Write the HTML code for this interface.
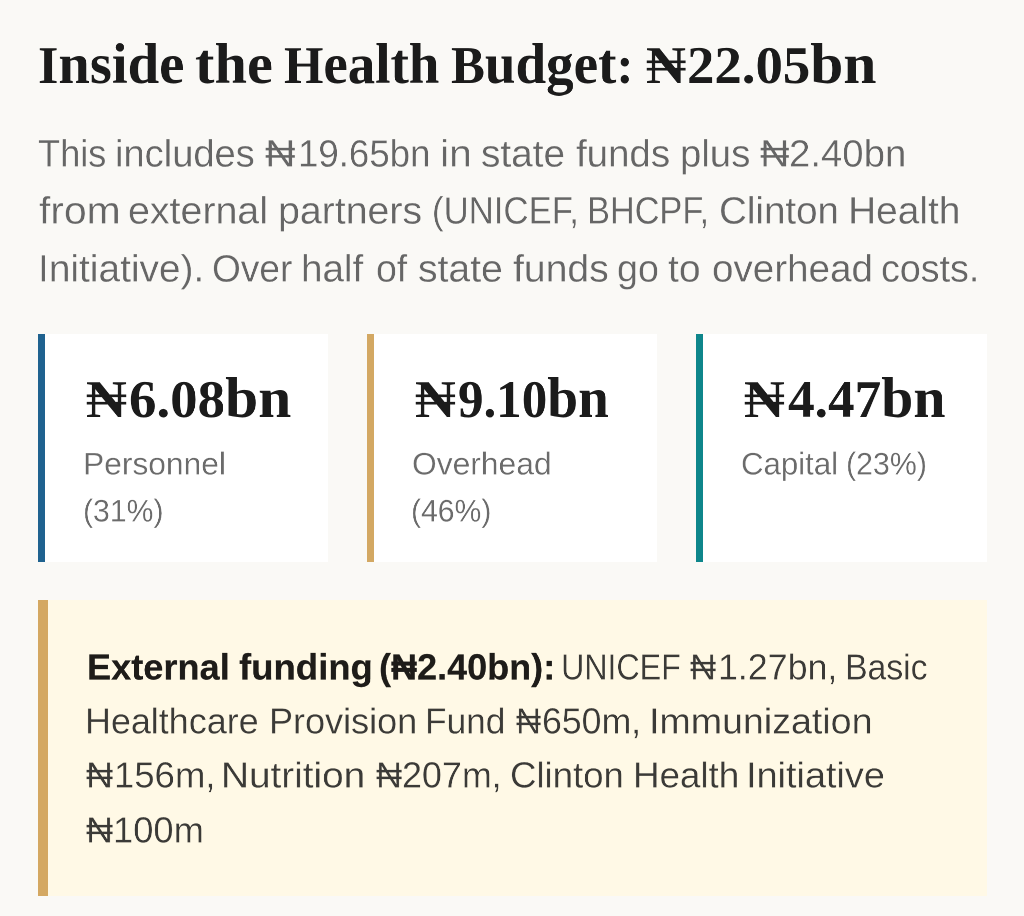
<!DOCTYPE html>
<html lang="en">
<head>
<meta charset="utf-8">
<title>Inside the Health Budget</title>
<style>
html,body{margin:0;padding:0;}
body{width:1024px;height:916px;background:#faf9f6;position:relative;overflow:hidden;font-family:"Liberation Sans",sans-serif;}
.box{position:absolute;box-sizing:border-box;}
.card{background:#ffffff;top:334px;height:228px;width:290px;border-left:7px solid #000;}
.c1{left:38px;border-left-color:#1f628f;}
.c2{left:367px;border-left-color:#d3a863;}
.c3{left:696px;width:291px;border-left-color:#0e868b;}
.note{left:38px;top:600px;width:949px;height:296px;background:#fff9e6;border-left:10px solid #d4a862;}
.w{margin:0;padding:0;font-size:0;line-height:0;font-weight:normal;}
.ln{position:absolute;white-space:nowrap;line-height:1;transform-origin:0 0;margin:0;padding:0;will-change:transform;}
.sf{font-family:"Liberation Serif",serif;font-weight:bold;}
.ss{font-family:"Liberation Sans",sans-serif;font-weight:normal;}
.sb{font-family:"Liberation Sans",sans-serif;font-weight:bold;-webkit-text-stroke:0.4px #1e1c19;}
.lc{font-size:1.085em;line-height:0;}
.tp{-webkit-text-stroke:0.5px #faf9f6;}
.tc{-webkit-text-stroke:0.45px #ffffff;}
.ty{-webkit-text-stroke:0.5px #fff9e6;}
</style>
</head>
<body>
<div class="box card c1"></div>
<div class="box card c2"></div>
<div class="box card c3"></div>
<div class="box note"></div>

<h1 class="w title">
<span id="T_0" class="ln sf" style="left:37.94px;top:39.01px;font-size:106.00px;color:#1b1b1b;transform:scale(0.4924,0.5000)">I<span class="lc">nside</span></span>
<span id="T_1" class="ln sf" style="left:195.38px;top:39.01px;font-size:106.00px;color:#1b1b1b;transform:scale(0.5083,0.5000)"><span class="lc">the</span></span>
<span id="T_2" class="ln sf" style="left:284.32px;top:39.01px;font-size:106.00px;color:#1b1b1b;transform:scale(0.4775,0.5000)">H<span class="lc">ealth</span></span>
<span id="T_3" class="ln sf" style="left:451.13px;top:39.01px;font-size:106.00px;color:#1b1b1b;transform:scale(0.4789,0.5000)">B<span class="lc">udget</span>:</span>
<span id="T_4" class="ln sf" style="left:645.55px;top:39.01px;font-size:106.00px;color:#1b1b1b;transform:scale(0.5223,0.5000)">&#8358;</span>
<span id="T_5" class="ln sf" style="left:686.87px;top:39.01px;font-size:106.00px;color:#1b1b1b;transform:scale(0.5168,0.5000)">22.05<span class="lc">bn</span></span>
</h1>
<p class="w lead">
<span id="P1_0" class="ln ss tp" style="left:38.22px;top:134.99px;font-size:75.60px;color:#666666;transform:scale(0.4780,0.5000)">This</span>
<span id="P1_1" class="ln ss tp" style="left:115.11px;top:134.99px;font-size:75.60px;color:#666666;transform:scale(0.5038,0.5000)">includes</span>
<span id="P1_2" class="ln ss tp" style="left:265.13px;top:134.99px;font-size:75.60px;color:#666666;transform:scale(0.5586,0.5000)">&#8358;</span>
<span id="P1_3" class="ln ss tp" style="left:297.93px;top:134.99px;font-size:75.60px;color:#666666;transform:scale(0.4843,0.5000)">19.65bn</span>
<span id="P1_4" class="ln ss tp" style="left:439.71px;top:134.99px;font-size:75.60px;color:#666666;transform:scale(0.5410,0.5000)">in</span>
<span id="P1_5" class="ln ss tp" style="left:480.88px;top:134.99px;font-size:75.60px;color:#666666;transform:scale(0.5131,0.5000)">state</span>
<span id="P1_6" class="ln ss tp" style="left:576.25px;top:134.99px;font-size:75.60px;color:#666666;transform:scale(0.5085,0.5000)">funds</span>
<span id="P1_7" class="ln ss tp" style="left:679.81px;top:134.99px;font-size:75.60px;color:#666666;transform:scale(0.5071,0.5000)">plus</span>
<span id="P1_8" class="ln ss tp" style="left:760.22px;top:134.99px;font-size:75.60px;color:#666666;transform:scale(0.5397,0.5000)">&#8358;</span>
<span id="P1_9" class="ln ss tp" style="left:788.71px;top:134.99px;font-size:75.60px;color:#666666;transform:scale(0.5069,0.5000)">2.40bn</span>
<span id="P2_0" class="ln ss tp" style="left:38.98px;top:191.94px;font-size:75.60px;color:#666666;transform:scale(0.5391,0.5000)">from</span>
<span id="P2_1" class="ln ss tp" style="left:128.40px;top:191.94px;font-size:75.60px;color:#666666;transform:scale(0.5205,0.5000)">external</span>
<span id="P2_2" class="ln ss tp" style="left:277.90px;top:191.94px;font-size:75.60px;color:#666666;transform:scale(0.5195,0.5000)">partners</span>
<span id="P2_3" class="ln ss tp" style="left:431.85px;top:191.94px;font-size:75.60px;color:#666666;transform:scale(0.4599,0.5000)">(UNICEF,</span>
<span id="P2_4" class="ln ss tp" style="left:587.16px;top:191.94px;font-size:75.60px;color:#666666;transform:scale(0.4541,0.5000)">BHCPF,</span>
<span id="P2_5" class="ln ss tp" style="left:718.76px;top:191.94px;font-size:75.60px;color:#666666;transform:scale(0.5096,0.5000)">Clinton</span>
<span id="P2_6" class="ln ss tp" style="left:848.45px;top:191.94px;font-size:75.60px;color:#666666;transform:scale(0.5143,0.5000)">Health</span>
<span id="P3_0" class="ln ss tp" style="left:38.07px;top:249.97px;font-size:75.60px;color:#666666;transform:scale(0.5139,0.5000)">Initiative).</span>
<span id="P3_1" class="ln ss tp" style="left:211.70px;top:249.97px;font-size:75.60px;color:#666666;transform:scale(0.4902,0.5000)">Over</span>
<span id="P3_2" class="ln ss tp" style="left:301.19px;top:249.97px;font-size:75.60px;color:#666666;transform:scale(0.5106,0.5000)">half</span>
<span id="P3_3" class="ln ss tp" style="left:375.57px;top:249.97px;font-size:75.60px;color:#666666;transform:scale(0.4957,0.5000)">of</span>
<span id="P3_4" class="ln ss tp" style="left:418.29px;top:249.97px;font-size:75.60px;color:#666666;transform:scale(0.5176,0.5000)">state</span>
<span id="P3_5" class="ln ss tp" style="left:512.87px;top:249.97px;font-size:75.60px;color:#666666;transform:scale(0.5175,0.5000)">funds</span>
<span id="P3_6" class="ln ss tp" style="left:616.61px;top:249.97px;font-size:75.60px;color:#666666;transform:scale(0.4983,0.5000)">go</span>
<span id="P3_7" class="ln ss tp" style="left:668.23px;top:249.97px;font-size:75.60px;color:#666666;transform:scale(0.5168,0.5000)">to</span>
<span id="P3_8" class="ln ss tp" style="left:712.47px;top:249.97px;font-size:75.60px;color:#666666;transform:scale(0.5106,0.5000)">overhead</span>
<span id="P3_9" class="ln ss tp" style="left:881.36px;top:249.97px;font-size:75.60px;color:#666666;transform:scale(0.4976,0.5000)">costs.</span>
</p>
<div class="w stat">
<span id="C1V_0" class="ln sf" style="left:85.92px;top:372.96px;font-size:106.00px;color:#1b1b1b;transform:scale(0.5315,0.5000)">&#8358;</span>
<span id="C1V_1" class="ln sf" style="left:129.02px;top:372.96px;font-size:106.00px;color:#1b1b1b;transform:scale(0.5177,0.5000)">6.08<span class="lc">bn</span></span>
<span id="C1A_0" class="ln ss tc" style="left:82.99px;top:448.00px;font-size:63.40px;color:#6b6b6b;transform:scale(0.5009,0.5000)">Personnel</span>
<span id="C1B_0" class="ln ss tc" style="left:82.72px;top:494.95px;font-size:63.40px;color:#6b6b6b;transform:scale(0.4762,0.5000)">(31%)</span>
</div>
<div class="w stat">
<span id="C2V_0" class="ln sf" style="left:414.91px;top:372.96px;font-size:106.00px;color:#1b1b1b;transform:scale(0.5299,0.5000)">&#8358;</span>
<span id="C2V_1" class="ln sf" style="left:458.33px;top:372.96px;font-size:106.00px;color:#1b1b1b;transform:scale(0.4812,0.5000)">9.10<span class="lc">bn</span></span>
<span id="C2A_0" class="ln ss tc" style="left:412.37px;top:448.00px;font-size:63.40px;color:#6b6b6b;transform:scale(0.5013,0.5000)">Overhead</span>
<span id="C2B_0" class="ln ss tc" style="left:410.80px;top:494.95px;font-size:63.40px;color:#6b6b6b;transform:scale(0.4753,0.5000)">(46%)</span>
</div>
<div class="w stat">
<span id="C3V_0" class="ln sf" style="left:744.00px;top:372.96px;font-size:106.00px;color:#1b1b1b;transform:scale(0.5299,0.5000)">&#8358;</span>
<span id="C3V_1" class="ln sf" style="left:788.18px;top:372.96px;font-size:106.00px;color:#1b1b1b;transform:scale(0.5023,0.5000)">4.47<span class="lc">bn</span></span>
<span id="C3A_0" class="ln ss tc" style="left:740.90px;top:448.00px;font-size:63.40px;color:#6b6b6b;transform:scale(0.4919,0.5000)">Capital</span>
<span id="C3A_1" class="ln ss tc" style="left:845.93px;top:448.00px;font-size:63.40px;color:#6b6b6b;transform:scale(0.4787,0.5000)">(23%)</span>
</div>
<div class="w funding">
<span id="Y1a_0" class="ln sb" style="left:86.55px;top:649.06px;font-size:72.00px;color:#1e1c19;transform:scale(0.5024,0.5000)">External</span>
<span id="Y1a_1" class="ln sb" style="left:238.61px;top:649.06px;font-size:72.00px;color:#1e1c19;transform:scale(0.5070,0.5000)">funding</span>
<span id="Y1a_2" class="ln sb" style="left:378.89px;top:649.06px;font-size:72.00px;color:#1e1c19;transform:scale(0.5005,0.5000)">(&#8358;2.40bn):</span>
<span id="Y1b_0" class="ln ss ty" style="left:561.20px;top:648.96px;font-size:72.00px;color:#3b3a37;transform:scale(0.4469,0.5000)">UNICEF</span>
<span id="Y1b_1" class="ln ss ty" style="left:689.65px;top:648.96px;font-size:72.00px;color:#3b3a37;transform:scale(0.5013,0.5000)">&#8358;</span>
<span id="Y1b_2" class="ln ss ty" style="left:718.18px;top:648.96px;font-size:72.00px;color:#3b3a37;transform:scale(0.4964,0.5000)">1.27bn,</span>
<span id="Y1b_3" class="ln ss ty" style="left:844.90px;top:648.96px;font-size:72.00px;color:#3b3a37;transform:scale(0.4689,0.5000)">Basic</span>
<span id="Y2_0" class="ln ss ty" style="left:85.18px;top:702.96px;font-size:72.00px;color:#3b3a37;transform:scale(0.4985,0.5000)">Healthcare</span>
<span id="Y2_1" class="ln ss ty" style="left:268.52px;top:702.96px;font-size:72.00px;color:#3b3a37;transform:scale(0.5003,0.5000)">Provision</span>
<span id="Y2_2" class="ln ss ty" style="left:424.75px;top:702.96px;font-size:72.00px;color:#3b3a37;transform:scale(0.4896,0.5000)">Fund</span>
<span id="Y2_3" class="ln ss ty" style="left:516.42px;top:702.96px;font-size:72.00px;color:#3b3a37;transform:scale(0.4816,0.5000)">&#8358;</span>
<span id="Y2_4" class="ln ss ty" style="left:541.96px;top:702.96px;font-size:72.00px;color:#3b3a37;transform:scale(0.4950,0.5000)">650m,</span>
<span id="Y2_5" class="ln ss ty" style="left:648.84px;top:702.96px;font-size:72.00px;color:#3b3a37;transform:scale(0.5219,0.5000)">Immunization</span>
<span id="Y3_0" class="ln ss ty" style="left:85.81px;top:757.06px;font-size:72.00px;color:#3b3a37;transform:scale(0.5208,0.5000)">&#8358;</span>
<span id="Y3_1" class="ln ss ty" style="left:113.64px;top:757.06px;font-size:72.00px;color:#3b3a37;transform:scale(0.5066,0.5000)">156m,</span>
<span id="Y3_2" class="ln ss ty" style="left:220.95px;top:757.06px;font-size:72.00px;color:#3b3a37;transform:scale(0.5378,0.5000)">Nutrition</span>
<span id="Y3_3" class="ln ss ty" style="left:375.73px;top:757.06px;font-size:72.00px;color:#3b3a37;transform:scale(0.5013,0.5000)">&#8358;</span>
<span id="Y3_4" class="ln ss ty" style="left:401.96px;top:757.06px;font-size:72.00px;color:#3b3a37;transform:scale(0.4983,0.5000)">207m,</span>
<span id="Y3_5" class="ln ss ty" style="left:509.69px;top:757.06px;font-size:72.00px;color:#3b3a37;transform:scale(0.5081,0.5000)">Clinton</span>
<span id="Y3_6" class="ln ss ty" style="left:632.62px;top:757.06px;font-size:72.00px;color:#3b3a37;transform:scale(0.5104,0.5000)">Health</span>
<span id="Y3_7" class="ln ss ty" style="left:746.24px;top:757.06px;font-size:72.00px;color:#3b3a37;transform:scale(0.5259,0.5000)">Initiative</span>
<span id="Y4_0" class="ln ss ty" style="left:85.81px;top:811.96px;font-size:72.00px;color:#3b3a37;transform:scale(0.5208,0.5000)">&#8358;</span>
<span id="Y4_1" class="ln ss ty" style="left:112.94px;top:811.96px;font-size:72.00px;color:#3b3a37;transform:scale(0.5043,0.5000)">100m</span>
</div>
</body>
</html>
